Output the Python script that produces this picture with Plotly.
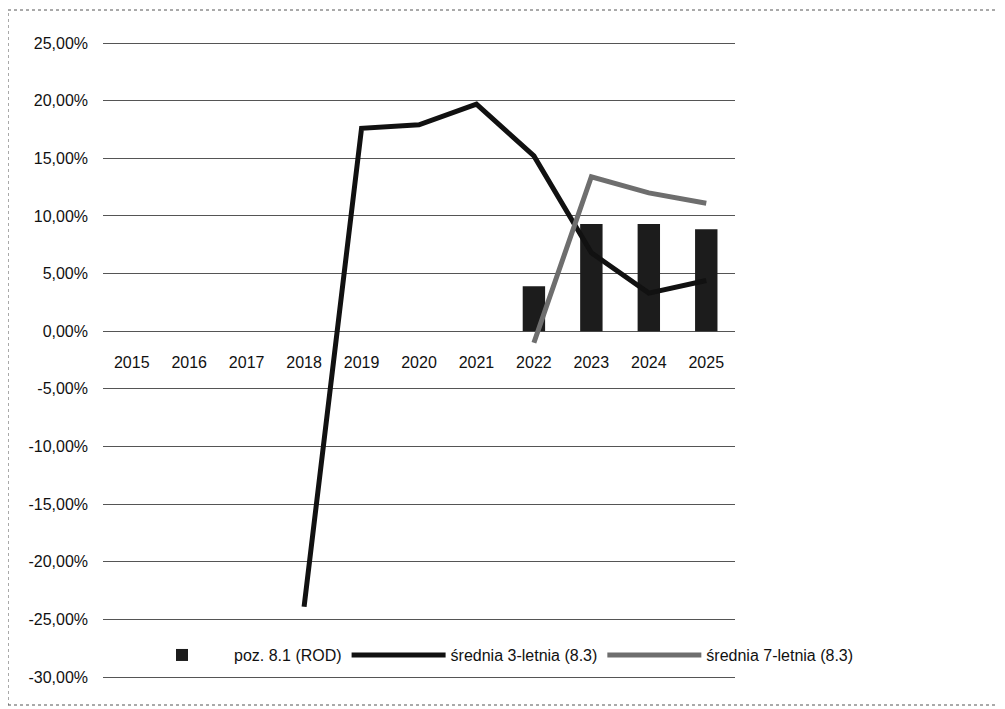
import plotly.graph_objects as go

years = ["2015", "2016", "2017", "2018", "2019", "2020", "2021", "2022", "2023", "2024", "2025"]
rod_years = ["2022", "2023", "2024", "2025"]
rod_values = [0.039, 0.093, 0.093, 0.0885]
avg3_years = ["2018", "2019", "2020", "2021", "2022", "2023", "2024", "2025"]
avg3_values = [-0.239, 0.176, 0.179, 0.197, 0.152, 0.068, 0.033, 0.044]
avg7_years = ["2022", "2023", "2024", "2025"]
avg7_values = [-0.010, 0.134, 0.120, 0.111]
ytick_vals = [0.25, 0.20, 0.15, 0.10, 0.05, 0.0, -0.05, -0.10, -0.15, -0.20, -0.25, -0.30]
ytick_text = ["25,00%", "20,00%", "15,00%", "10,00%", "5,00%", "0,00%", "-5,00%",
              "-10,00%", "-15,00%", "-20,00%", "-25,00%", "-30,00%"]

FONT = "Liberation Sans, Arial, sans-serif"

W, H = 997, 701
L, R, T, B = 95, 270, 32, 29
PW, PH = W - L - R, H - T - B
PAD = 3 * 0.55 / 634
Y0, Y1 = -0.30 - PAD, 0.25 + PAD

fig = go.Figure()
fig.add_trace(go.Bar(x=rod_years, y=rod_values, name="poz. 8.1 (ROD)",
                     marker=dict(color="#1c1c1c", line=dict(width=0))))
fig.add_trace(go.Scatter(x=avg3_years, y=avg3_values, name="średnia 3-letnia (8.3)",
                         mode="lines", line=dict(color="#111111", width=5)))
fig.add_trace(go.Scatter(x=avg7_years, y=avg7_values, name="średnia 7-letnia (8.3)",
                         mode="lines", line=dict(color="#6e6e6e", width=5)))

fig.update_layout(
    width=W, height=H,
    margin=dict(l=L, r=R, t=T, b=B),
    paper_bgcolor="white", plot_bgcolor="white",
    font=dict(family=FONT, size=16, color="#111111"),
    bargap=0.61,
    showlegend=True,
    legend=dict(orientation="h", x=(867 - 8 - L) / PW, y=-0.0001, xanchor="right", yanchor="bottom",
                bgcolor="rgba(0,0,0,0)", bordercolor="rgba(0,0,0,0)", borderwidth=8,
                font=dict(size=16), itemwidth=94, traceorder="normal"),
    xaxis=dict(type="category", categoryorder="array", categoryarray=years,
               range=[-0.5, 10.5], showgrid=False, showline=False, zeroline=False,
               ticks="", anchor="free", position=(0 - Y0) / (Y1 - Y0), ticklabelstandoff=20,
               tickfont=dict(size=16, color="#111111")),
    yaxis=dict(range=[Y0, Y1], tickvals=ytick_vals, ticktext=ytick_text,
               showgrid=True, gridcolor="#555555", gridwidth=1, zeroline=False,
               showline=False, ticks="", ticklabelstandoff=14,
               tickfont=dict(size=16, color="#111111")),
    shapes=[dict(type="rect", xref="paper", yref="paper",
                 x0=-L / PW, x1=(992 - L) / PW, y0=-(697 - (T + PH)) / PH, y1=1 + (T - 2) / PH,
                 line=dict(color="#555555", width=1, dash="dot"), layer="below")],
)

fig.write_html("out.html")
